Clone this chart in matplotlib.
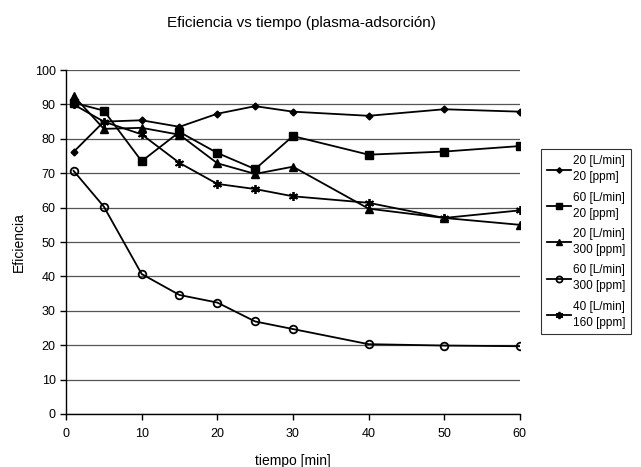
import matplotlib
matplotlib.use('Agg')
import matplotlib.pyplot as plt

plt.rcParams['font.family'] = ['Liberation Sans', 'DejaVu Sans']

# tiempo [min]
tiempo = [1, 5, 10, 15, 20, 25, 30, 40, 50, 60]

# eficiencia per condition
ef_20lpm_20ppm = [76.2, 85.0, 85.4, 83.5, 87.3, 89.5, 87.9, 86.7, 88.6, 87.9]
ef_60lpm_20ppm = [90.5, 88.2, 73.5, 82.0, 75.9, 71.2, 80.8, 75.4, 76.3, 77.9]
ef_20lpm_300ppm = [92.5, 82.9, 83.2, 81.2, 72.9, 69.8, 71.9, 59.7, 57.0, 55.0]
ef_60lpm_300ppm = [70.7, 60.3, 40.7, 34.6, 32.4, 26.9, 24.7, 20.3, 19.9, 19.7]
ef_40lpm_160ppm = [90.0, 85.0, 81.3, 73.0, 66.9, 65.4, 63.3, 61.4, 57.0, 59.2]

labels = ['20 [L/min]\n20 [ppm]', '60 [L/min]\n20 [ppm]', '20 [L/min]\n300 [ppm]',
          '60 [L/min]\n300 [ppm]', '40 [L/min]\n160 [ppm]']

fig = plt.figure(figsize=(6.41, 4.67), dpi=100)
ax = fig.add_axes([0.103, 0.1135, 0.708, 0.7365])

ax.plot(tiempo, ef_20lpm_20ppm, color='black', lw=1.3, marker='D', ms=3.5, label=labels[0])
ax.plot(tiempo, ef_60lpm_20ppm, color='black', lw=1.3, marker='s', ms=6, label=labels[1])
ax.plot(tiempo, ef_20lpm_300ppm, color='black', lw=1.3, marker='^', ms=6, label=labels[2])
ax.plot(tiempo, ef_60lpm_300ppm, color='black', lw=1.3, marker='o', ms=5.5,
        mfc='none', mew=1.3, label=labels[3])
ax.plot(tiempo, ef_40lpm_160ppm, color='black', lw=1.3, marker=(6, 2, 0), ms=6.5,
        mew=1.3, label=labels[4])

ax.set_xlim(0, 60)
ax.set_ylim(0, 100)
ax.set_xticks(range(0, 61, 10))
ax.set_yticks(range(0, 101, 10))
ax.tick_params(labelsize=9, direction='out', length=4, width=1, color='black')
ax.tick_params(axis='x', pad=6)
ax.yaxis.grid(True, color='#555555', lw=0.9)
ax.set_axisbelow(True)
for s in ['top', 'right']:
    ax.spines[s].set_visible(False)
ax.spines['left'].set_linewidth(1)
ax.spines['bottom'].set_linewidth(1)

ax.set_xlabel('tiempo [min]', fontsize=10, labelpad=10)
ax.set_ylabel('Eficiencia', fontsize=10, labelpad=6)
fig.suptitle('Eficiencia vs tiempo (plasma-adsorción)', fontsize=11, x=0.47, y=0.965)

leg = fig.legend(loc='center left', bbox_to_anchor=(0.844, 0.482), fontsize=8.5,
                 frameon=True, fancybox=False, edgecolor='black', handlelength=2.0,
                 handletextpad=0.2, borderpad=0.5, labelspacing=0.7, borderaxespad=0,
                 markerscale=0.8)
for t in leg.get_texts():
    t.set_linespacing(1.45)
leg.get_frame().set_linewidth(0.8)

fig.savefig('out.png', dpi=100)
